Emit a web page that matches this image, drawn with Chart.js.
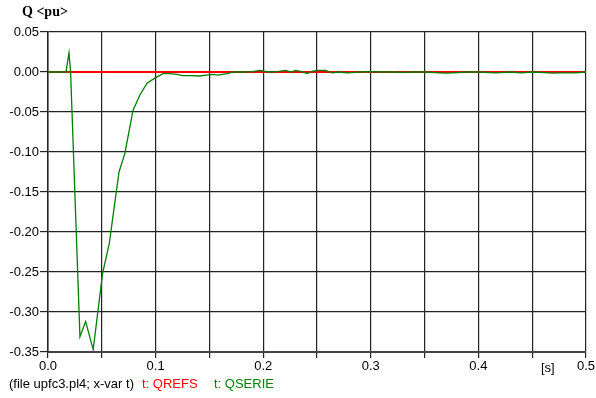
<!DOCTYPE html>
<html>
<head>
<meta charset="utf-8">
<script src="https://cdn.jsdelivr.net/npm/chart.js@4"></script>
<style>
  body { margin: 0; background: #fff; }
  #wrap { position: relative; width: 596px; height: 398px; }
  .txt { position: absolute; font-family: "Liberation Sans", Arial, sans-serif; font-size: 13px; white-space: nowrap; }
  #title { left: 22px; top: 4px; font-family: "Liberation Serif", serif; font-weight: bold; font-size: 14px; }
</style>
</head>
<body>
<div id="wrap">
  <canvas id="chart" width="596" height="398"></canvas>
  <div class="txt" id="title">Q &lt;pu&gt;</div>
  <div class="txt" style="left:541px; top:360px;">[s]</div>
  <div class="txt" style="left:9px; top:376px;">(file upfc3.pl4; x-var t)</div>
  <div class="txt" style="left:142px; top:376px; color:#ff0000;">t: QREFS</div>
  <div class="txt" style="left:214px; top:376px; color:#008000;">t: QSERIE</div>
</div>
<script>
// time axis [s]
const tSerie = [0, 0.005, 0.01, 0.0167, 0.0195, 0.021, 0.0297, 0.035, 0.042, 0.0507, 0.057, 0.066, 0.0714, 0.079, 0.0853, 0.092,
  0.1, 0.107, 0.113, 0.12, 0.125, 0.133, 0.141, 0.147, 0.153, 0.158, 0.162, 0.167, 0.172, 0.18, 0.19, 0.197, 0.205, 0.213,
  0.221, 0.226, 0.23, 0.236, 0.241, 0.246, 0.252, 0.258, 0.264, 0.27, 0.278, 0.29, 0.3, 0.31, 0.32, 0.33, 0.34, 0.35,
  0.364, 0.37, 0.376, 0.39, 0.4, 0.416, 0.43, 0.44, 0.45, 0.466, 0.47, 0.475, 0.49, 0.5];
const qSerie = [0, 0, 0, 0, 0.024, 0, -0.331, -0.312, -0.347, -0.252, -0.214, -0.125, -0.102, -0.048, -0.029, -0.014,
  -0.007, -0.002, -0.002, -0.003, -0.0046, -0.0045, -0.005, -0.004, -0.003, -0.004, -0.003, -0.002, 0, 0, 0.0005, 0.002, 0, 0.0005,
  0.002, 0, 0.002, 0.0005, -0.002, 0.001, 0.002, 0.002, -0.001, 0, -0.001, 0, 0.0005, 0, 0, -0.0005, 0, 0,
  -0.001, -0.0015, -0.001, 0, 0, -0.0012, 0, -0.001, 0, -0.001, -0.0015, -0.001, -0.001, 0];
const tRefs = [0, 0.5];
const qRefs = [0, 0];

const yTicks = [0.05, 0, -0.05, -0.1, -0.15, -0.2, -0.25, -0.3, -0.35];
const xLabels = [0, 0.1, 0.2, 0.3, 0.4, 0.5];

const toXY = (xs, ys) => xs.map((x, i) => ({ x: x, y: ys[i] }));

new Chart(document.getElementById('chart'), {
  type: 'line',
  data: {
    datasets: [
      { label: 'QSERIE', data: toXY(tSerie, qSerie), borderColor: '#008000', borderWidth: 1.3, pointRadius: 0, tension: 0 },
      { label: 'QREFS', data: toXY(tRefs, qRefs), borderColor: '#ff0000', borderWidth: 2, pointRadius: 0 }
    ]
  },
  options: {
    responsive: false,
    animation: false,
    layout: { padding: { top: 32, right: 9, left: 0, bottom: 0 } },
    plugins: { legend: { display: false }, tooltip: { enabled: false } },
    scales: {
      x: {
        type: 'linear', min: 0, max: 0.5,
        afterFit: s => { s.height = 46; },
        afterBuildTicks: s => { s.ticks = [0, 0.05, 0.1, 0.15, 0.2, 0.25, 0.3, 0.35, 0.4, 0.45, 0.5].map(v => ({ value: v })); },
        grid: { color: '#222', lineWidth: 1.2, tickLength: 6, tickColor: '#222' },
        border: { color: '#444', width: 2 },
        ticks: {
          maxRotation: 0, autoSkip: false, padding: 1,
          color: '#000', font: { family: 'Liberation Sans', size: 13 },
          callback: v => {
            const l = xLabels.find(x => Math.abs(x - v) < 1e-9);
            return l === undefined ? '' : l.toFixed(1);
          }
        }
      },
      y: {
        type: 'linear', min: -0.35, max: 0.05,
        afterFit: s => { s.width = 48; },
        afterBuildTicks: s => { s.ticks = yTicks.map(v => ({ value: v })); },
        grid: { color: '#222', lineWidth: 1.2, tickLength: 8, tickColor: '#222' },
        border: { color: '#222', width: 1.5 },
        ticks: {
          padding: 1, color: '#000', font: { family: 'Liberation Sans', size: 13 },
          callback: v => v.toFixed(2)
        }
      }
    }
  }
});
</script>
</body>
</html>
